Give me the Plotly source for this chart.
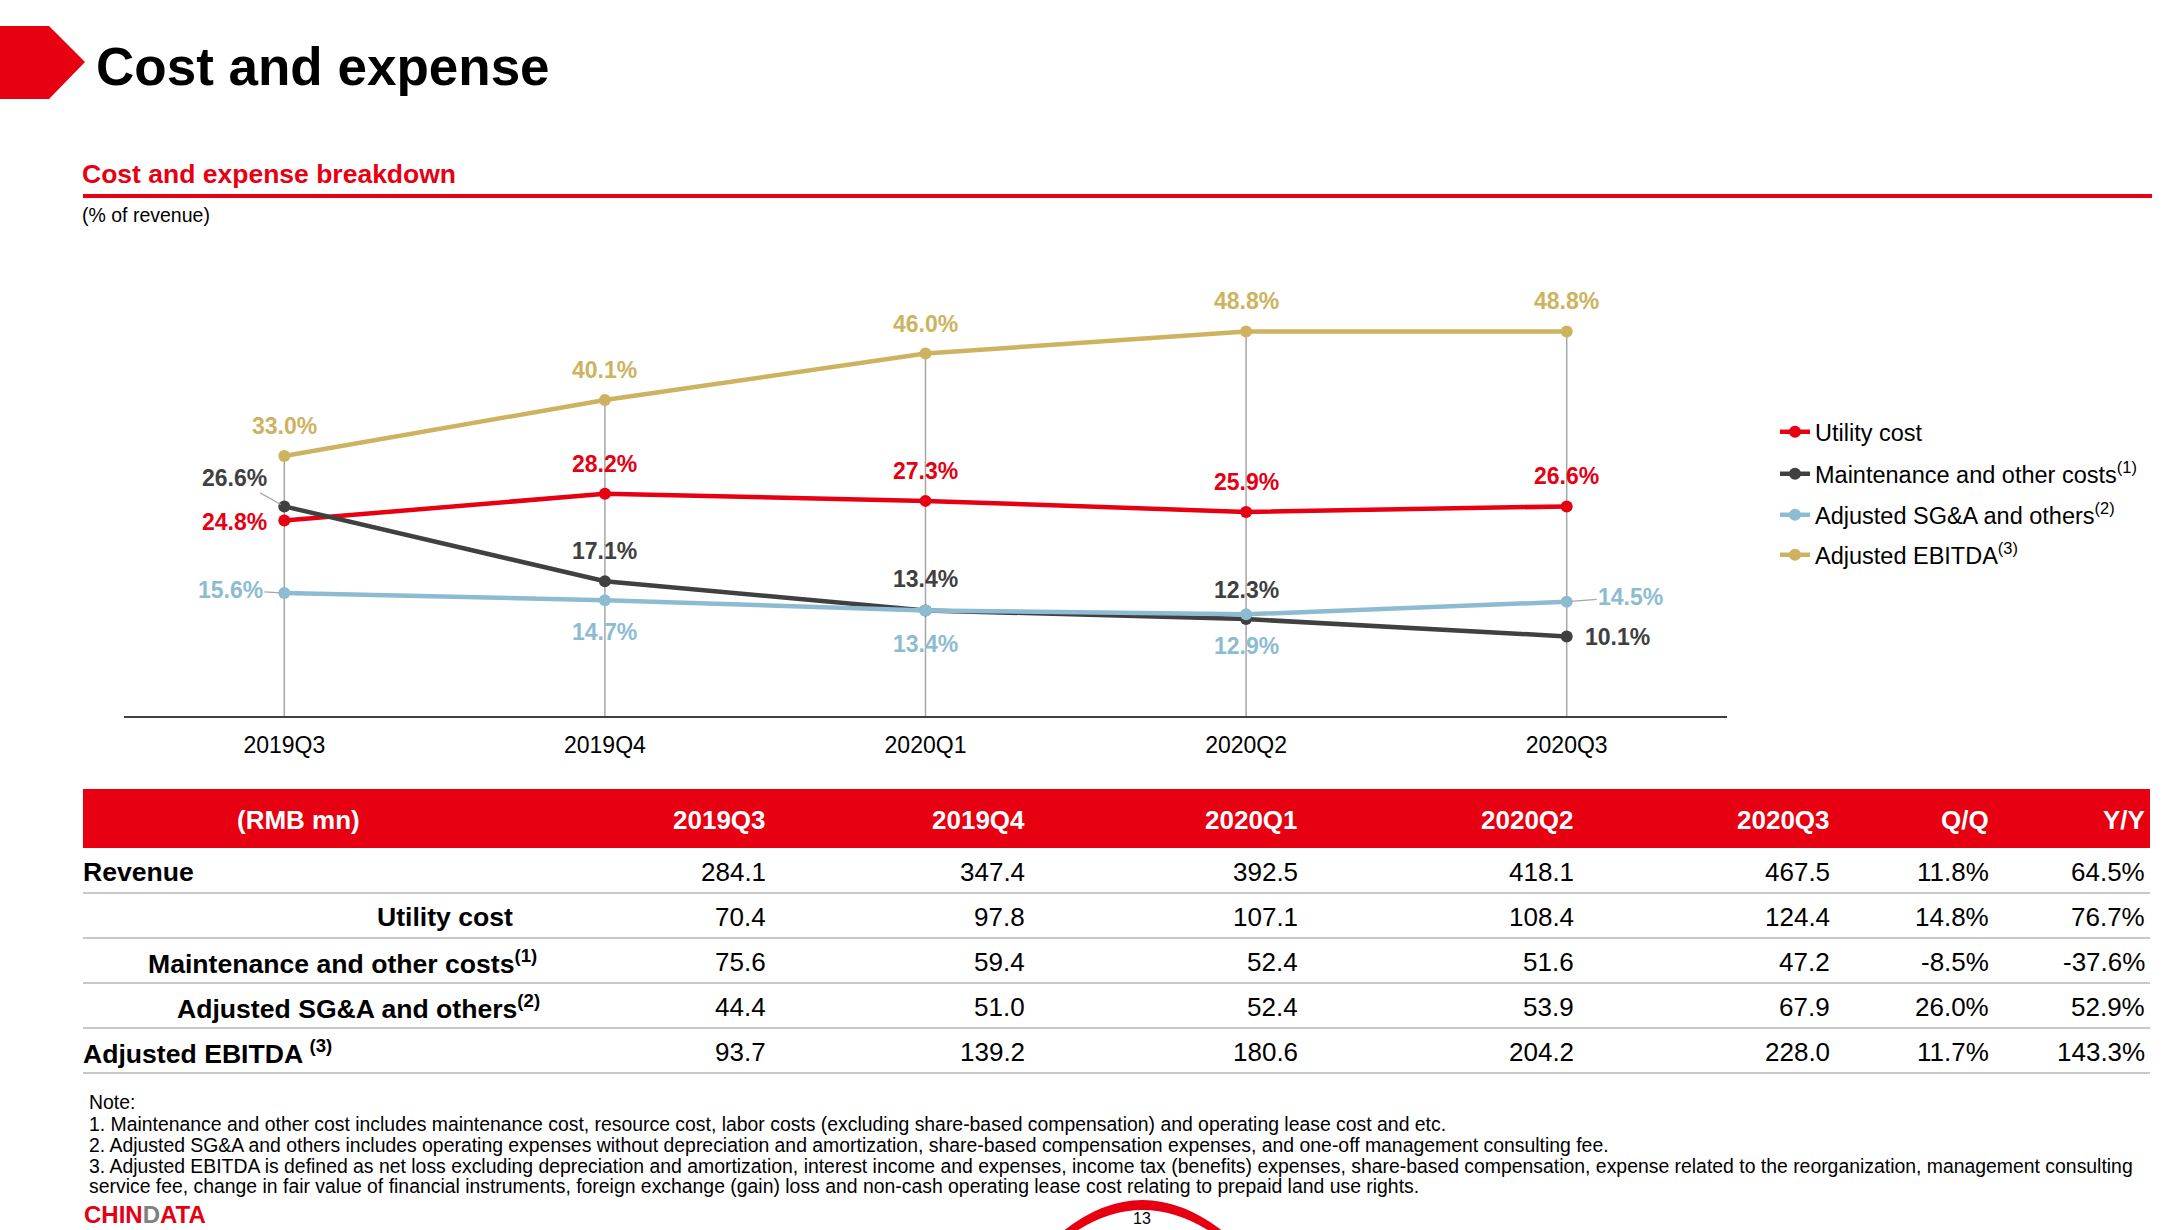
import plotly.graph_objects as go

# ---------------- data ----------------
quarters = ["2019Q3", "2019Q4", "2020Q1", "2020Q2", "2020Q3"]
utility_pct = [24.8, 28.2, 27.3, 25.9, 26.6]
maint_pct = [26.6, 17.1, 13.4, 12.3, 10.1]
sga_pct = [15.6, 14.7, 13.4, 12.9, 14.5]
ebitda_pct = [33.0, 40.1, 46.0, 48.8, 48.8]

series_names = [
    "Utility cost",
    "Maintenance and other costs<sup>(1)</sup>",
    "Adjusted SG&amp;A and others<sup>(2)</sup>",
    "Adjusted EBITDA<sup>(3)</sup>",
]

table_header = ["(RMB mn)", "2019Q3", "2019Q4", "2020Q1", "2020Q2", "2020Q3", "Q/Q", "Y/Y"]
row_labels = [
    "Revenue",
    "Utility cost",
    "Maintenance and other costs<sup>(1)</sup>",
    "Adjusted SG&amp;A and others<sup>(2)</sup>",
    "Adjusted EBITDA <sup>(3)</sup>",
]
revenue_rmb = [284.1, 347.4, 392.5, 418.1, 467.5]
utility_rmb = [70.4, 97.8, 107.1, 108.4, 124.4]
maint_rmb = [75.6, 59.4, 52.4, 51.6, 47.2]
sga_rmb = [44.4, 51.0, 52.4, 53.9, 67.9]
ebitda_rmb = [93.7, 139.2, 180.6, 204.2, 228.0]
qoq_pct = [11.8, 14.8, -8.5, 26.0, 11.7]
yoy_pct = [64.5, 76.7, -37.6, 52.9, 143.3]

notes = [
    "Note:",
    "1. Maintenance and other cost includes maintenance cost, resource cost, labor costs (excluding share-based compensation) and operating lease cost and etc.",
    "2. Adjusted SG&amp;A and others includes operating expenses without depreciation and amortization, share-based compensation expenses, and one-off management consulting fee.",
    "3. Adjusted EBITDA is defined as net loss excluding depreciation and amortization, interest income and expenses, income tax (benefits) expenses, share-based compensation, expense related to the reorganization, management consulting",
    "service fee, change in fair value of financial instruments, foreign exchange (gain) loss and non-cash operating lease cost relating to prepaid land use rights.",
]

# ---------------- layout helpers ----------------
W, H = 2166, 1230


def px(x):
    return x / W


def py(y):
    return 1 - y / H


FONT = "Arial, 'Liberation Sans', sans-serif"
NARROW = "'Liberation Sans Narrow', 'Arial Narrow', Arial, sans-serif"
RED = "#E60012"
DARK = "#404040"
BLUE = "#8DBCD2"
GOLD = "#CDB35F"
colors = [RED, DARK, BLUE, GOLD]
legends = ["legend", "legend2", "legend3", "legend4"]

# chart geometry (pixels)
X0, X1 = 124, 1727
Y_AXIS = 716
PX_PER = 7.88
Y_MAX = 58

fig = go.Figure()
xs = list(range(len(quarters)))

# drop lines
dx, dy = [], []
for i, v in zip(xs, ebitda_pct):
    dx += [i, i, None]
    dy += [0, v, None]
fig.add_trace(go.Scatter(x=dx, y=dy, mode="lines", line=dict(color="#A6A6A6", width=1.5),
                         showlegend=False, hoverinfo="skip"))

all_series = [utility_pct, maint_pct, sga_pct, ebitda_pct]
for name, vals, col, lg in zip(series_names, all_series, colors, legends):
    fig.add_trace(go.Scatter(x=xs, y=vals, mode="lines+markers", name=name,
                             line=dict(color=col, width=4.5),
                             marker=dict(color=col, size=12),
                             legend=lg))

# data labels: (ax, ay) pixel offsets of label centre from point, leader?
label_style = [
    [(-50, 1, False), (0, -30, False), (0, -30, False), (0, -30, False), (0, -30, False)],
    [(-50, -28, True), (0, -30, False), (0, -31, False), (0, -29, False), (51, 1, False)],
    [(-54, -3, True), (0, 32, False), (0, 34, False), (0, 32, False), (64, -5, True)],
    [(0, -30, False)] * 5,
]
annotations = []
for vals, col, styles in zip(all_series, colors, label_style):
    for i, (v, (ax, ay, lead)) in enumerate(zip(vals, styles)):
        annotations.append(dict(
            x=i, y=v, xref="x", yref="y", text=f"<b>{v:.1f}%</b>",
            showarrow=True, ax=ax, ay=ay, arrowhead=0, arrowwidth=1.2,
            arrowcolor="#A6A6A6" if lead else "rgba(0,0,0,0)", standoff=4 if lead else 0,
            font=dict(family=NARROW, size=23, color=col)))

# title etc.
annotations += [
    dict(x=px(94), y=py(66), xref="paper", yref="paper", xanchor="left", yanchor="middle",
         text="<b>Cost and expense</b>", showarrow=False, font=dict(family=FONT, size=53, color="#000")),
    dict(x=px(80), y=py(174), xref="paper", yref="paper", xanchor="left", yanchor="middle",
         text="<b>Cost and expense breakdown</b>", showarrow=False, font=dict(family=FONT, size=26.5, color=RED)),
    dict(x=px(80), y=py(215), xref="paper", yref="paper", xanchor="left", yanchor="middle",
         text="(% of revenue)", showarrow=False, font=dict(family=FONT, size=19.5, color="#000")),
]

# table
TF = 26
LF = 26.6
col_right = [768, 1027, 1300, 1576, 1832, 1991, 2147]
annotations.append(dict(x=px(298), y=py(820), xref="paper", yref="paper", xanchor="center", yanchor="middle",
                        text=f"<b>{table_header[0]}</b>", showarrow=False,
                        font=dict(family=FONT, size=TF, color="white")))
for h, xr in zip(table_header[1:], col_right):
    annotations.append(dict(x=px(xr), y=py(820), xref="paper", yref="paper", xanchor="right", yanchor="middle",
                            text=f"<b>{h}</b>", showarrow=False, font=dict(family=FONT, size=TF, color="white")))

row_y = [872, 917, 962, 1007, 1052]
row_lab_pos = [(81, "left"), (515, "right"), (539, "right"), (542, "right"), (81, "left")]
rows = [revenue_rmb, utility_rmb, maint_rmb, sga_rmb, ebitda_rmb]
for lab, (lx, anc), yy, vals, q, yv in zip(row_labels, row_lab_pos, row_y, rows, qoq_pct, yoy_pct):
    annotations.append(dict(x=px(lx), y=py(yy), xref="paper", yref="paper", xanchor=anc, yanchor="middle",
                            text=f"<b>{lab}</b>", showarrow=False, font=dict(family=FONT, size=LF, color="#000")))
    cells = [f"{v:.1f}" for v in vals] + [f"{q:.1f}%", f"{yv:.1f}%"]
    for c, xr in zip(cells, col_right):
        annotations.append(dict(x=px(xr), y=py(yy), xref="paper", yref="paper", xanchor="right", yanchor="middle",
                                text=c, showarrow=False, font=dict(family=FONT, size=TF, color="#000")))

note_y = [1102, 1124, 1145, 1166, 1186]
for t, yy in zip(notes, note_y):
    annotations.append(dict(x=px(87), y=py(yy), xref="paper", yref="paper", xanchor="left", yanchor="middle",
                            text=t, showarrow=False, font=dict(family=FONT, size=19.4, color="#000")))

# footer
annotations.append(dict(x=px(82), y=py(1230), xref="paper", yref="paper", xanchor="left", yanchor="bottom",
                        text="<b>CHIN<span style='color:#808080'>D</span>ATA</b>", showarrow=False,
                        font=dict(family=FONT, size=24, color=RED)))
annotations.append(dict(x=px(1142), y=py(1229), xref="paper", yref="paper", xanchor="center", yanchor="bottom",
                        text="13", showarrow=False, font=dict(family=FONT, size=16, color="#000")))

shapes = [
    # title pentagon
    dict(type="path", xref="paper", yref="paper",
         path=f"M {px(0)} {py(26)} L {px(49)} {py(26)} L {px(85)} {py(62)} L {px(49)} {py(99)} L {px(0)} {py(99)} Z",
         fillcolor=RED, line=dict(width=0)),
    # subtitle rule
    dict(type="line", xref="paper", yref="paper", x0=px(83), x1=px(2152), y0=py(196), y1=py(196),
         line=dict(color=RED, width=4)),
    # table header band
    dict(type="rect", xref="paper", yref="paper", x0=px(83), x1=px(2150), y0=py(789), y1=py(848),
         fillcolor=RED, line=dict(width=0)),
    # page arc
    dict(type="path", xref="paper", yref="paper",
         path=(f"M {px(1062)} {py(1232)} Q {px(1142)} {py(1168)} {px(1224)} {py(1232)} "
               f"L {px(1211)} {py(1232)} Q {px(1142)} {py(1188)} {px(1075)} {py(1232)} Z"),
         fillcolor=RED, line=dict(width=0)),
]
for yy in [893, 938, 983, 1028, 1073]:
    shapes.append(dict(type="line", xref="paper", yref="paper", x0=px(83), x1=px(2150), y0=py(yy), y1=py(yy),
                       line=dict(color="#C8C8C8", width=2)))

leg_y = [432, 474, 515, 555]
leg_common = dict(x=px(1775), xanchor="left", yanchor="middle", bgcolor="rgba(0,0,0,0)",
                  font=dict(family=FONT, size=23.5, color="#000"), borderwidth=0)
layout_legends = {lg: dict(leg_common, y=py(yy)) for lg, yy in zip(legends, leg_y)}

fig.update_layout(
    width=W, height=H, margin=dict(l=0, r=0, t=0, b=0),
    paper_bgcolor="white", plot_bgcolor="white",
    font=dict(family=FONT, color="#000"),
    xaxis=dict(domain=[px(X0), px(X1)], range=[-0.5, len(quarters) - 0.5],
               tickvals=xs, ticktext=quarters, showgrid=False, zeroline=False,
               showline=True, linecolor="#404040", linewidth=2, ticks="",
               tickfont=dict(family=FONT, size=23, color="#000"), ticklabelstandoff=7),
    yaxis=dict(domain=[py(Y_AXIS), py(Y_AXIS - Y_MAX * PX_PER)], range=[0, Y_MAX],
               visible=False, showgrid=False, zeroline=False),
    annotations=annotations, shapes=shapes, showlegend=True,
    **layout_legends,
)

fig.write_html("out.html", config={"displayModeBar": False},
               post_script="document.body.style.margin='0';document.body.style.overflow='hidden';")
